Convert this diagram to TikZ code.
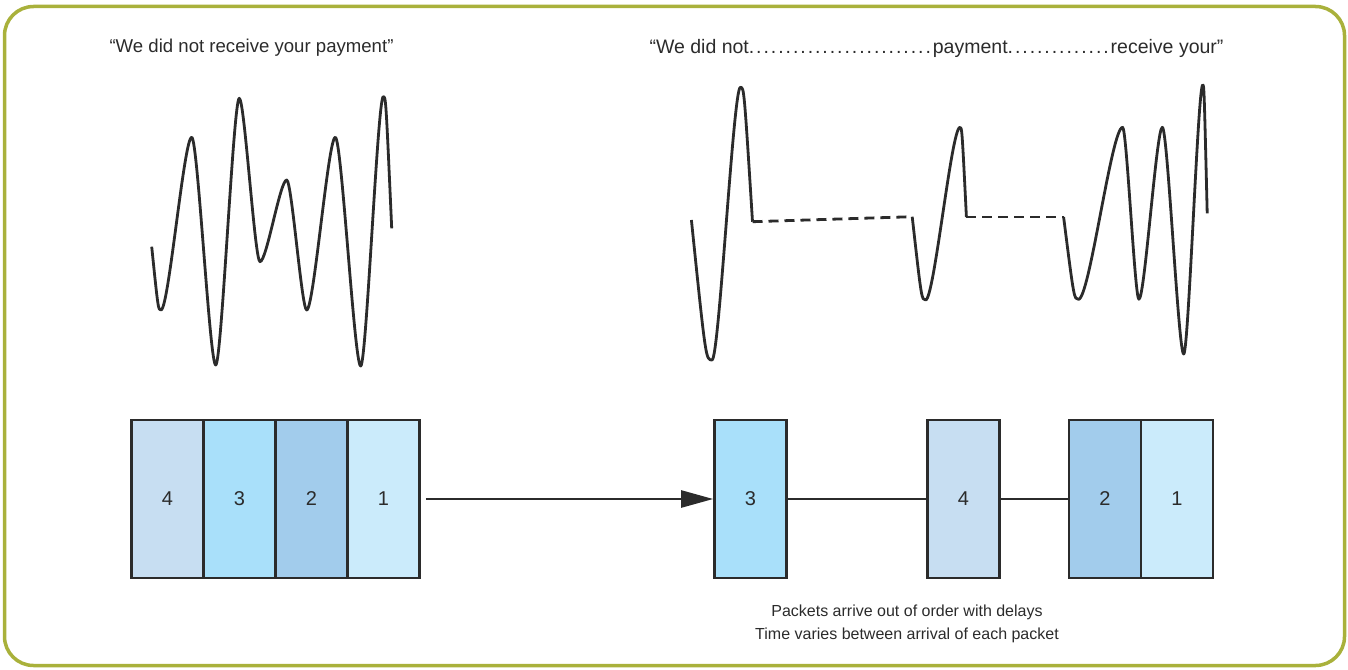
\documentclass[tikz,border=0pt]{standalone}
\usepackage{fontspec}
\setmainfont{Liberation Sans}
\usetikzlibrary{arrows.meta,calc}
\definecolor{rimgreen}{HTML}{A9B13B}
\definecolor{ink}{HTML}{2B2B2B}
\definecolor{pkone}{HTML}{CBEBFB}
\definecolor{pktwo}{HTML}{A2CCEC}
\definecolor{pkthree}{HTML}{A9E0FA}
\definecolor{pkfour}{HTML}{C7DEF2}
\newcommand{\pd}{.\kern1.94pt}

\begin{document}
\begin{tikzpicture}[
		x=1pt, y=-1pt,
		every node/.style={font=\fontsize{18.6}{22}\selectfont, text=ink},
		packet/.style={draw=ink, line width=2.6pt, minimum width=72pt, minimum height=158pt, inner sep=0pt,
			font=\fontsize{20}{24}\selectfont},
		wave/.style={line width=2.8pt, draw=ink, line join=round},
		gap/.style={line width=2.8pt, draw=ink, dash pattern=on 10pt off 6pt},
		link/.style={line width=2.4pt, draw=ink},
		arrow/.style={link, -{Triangle[length=32pt,width=17pt]}},
		pk/.style={to path={let \p1=(\tikztostart), \p2=(\tikztotarget) in
				.. controls (\x1+0.25*\x2-0.25*\x1,\y1) and (\x2-0.25*\x2+0.25*\x1,\y2) .. (\tikztotarget)}},
		pkin/.style={to path={let \p1=(\tikztostart), \p2=(\tikztotarget) in
				.. controls (\x2-0.3*\x2+0.3*\x1,\y2) .. (\tikztotarget)}},
		pkout/.style={to path={let \p1=(\tikztostart), \p2=(\tikztotarget) in
				.. controls (\x1+0.3*\x2-0.3*\x1,\y1) .. (\tikztotarget)}}
		]
		
		\useasboundingbox (0,0) rectangle (1348,669);
		
		% Frame
		\draw[rimgreen, line width=3.5pt, rounded corners=29pt] (4.5,6.5) rectangle (1344.5,665.5);
		
		% -------- Spoken phrases --------
		\node[anchor=west] (said) at (106,48) {“We did not receive your payment”};
		\node[anchor=west, font=\fontsize{19.5}{23}\selectfont] (heard) at (646,48)
			{“We did not\pd\pd\pd\pd\pd\pd\pd\pd\pd\pd\pd\pd\pd\pd\pd\pd\pd\pd\pd\pd\pd\pd\pd\pd\pd payment\pd\pd\pd\pd\pd\pd\pd\pd\pd\pd\pd\pd\pd\pd receive your”};
		
		% -------- Sent waveform --------
		\draw[wave] (151.7,246.7) to[pkin] (161,310) to[pk] (191.7,137.3) to[pk] (215.7,365)
			to[pk] (239.3,98.3) to[pk] (260,261.7) to[pk] (286.7,180) to[pk] (306.7,310)
			to[pk] (335.3,137.3) to[pk] (360.7,366) to[pk] (383.3,96.7) to[pkout] (391.7,228.3);
		
		% -------- Received waveform --------
		\coordinate (a1) at (752.5,221.7);
		\coordinate (a2) at (912.2,216.7);
		\coordinate (b1) at (966.4,217);
		\coordinate (b2) at (1063.6,217);
		
		\draw[wave] (691.4,220) to[pkin] (712,360) to[pk] (740.4,87.3) to[pkout] (a1);
		\draw[gap] (a1) -- (a2);
		\draw[wave] (a2) to[pkin] (925.6,300) to[pk] (960,127.3) to[pkout] (b1);
		\draw[gap] (b1) -- (b2);
		\draw[wave] (b2) to[pkin] (1078.5,299.3) to[pk] (1122.6,127.3) to[pk] (1138.9,299.3)
			to[pk] (1162.3,127.3) to[pk] (1183.7,354) to[pk] (1202.7,85) to[pkout] (1207.2,213.3);
		
		% -------- Packets sent --------
		\node[packet, fill=pkfour] (l4) at (167.5,499) {4};
		\node[packet, fill=pkthree] (l3) at (239.5,499) {3};
		\node[packet, fill=pktwo] (l2) at (311.5,499) {2};
		\node[packet, fill=pkone] (l1) at (383.5,499) {1};
		
		% -------- Packets received --------
		\node[packet, fill=pkthree] (r3) at (750.5,499) {3};
		\node[packet, fill=pkfour] (r4) at (963.5,499) {4};
		\node[packet, fill=pktwo] (r2) at (1105,499) {2};
		\node[packet, fill=pkone] (r1) at (1177,499) {1};
		
		% ---- Connections ----
		\draw[arrow, shorten <=5pt] (l1) -- (r3);
		\draw[link] (r3) -- (r4);
		\draw[link] (r4) -- (r2);
		
		% Caption
		\node[align=center, font=\fontsize{16}{23}\selectfont] (note) at (907,623.5)
			{Packets arrive out of order with delays\\Time varies between arrival of each packet};
		
	\end{tikzpicture}
\end{document}
